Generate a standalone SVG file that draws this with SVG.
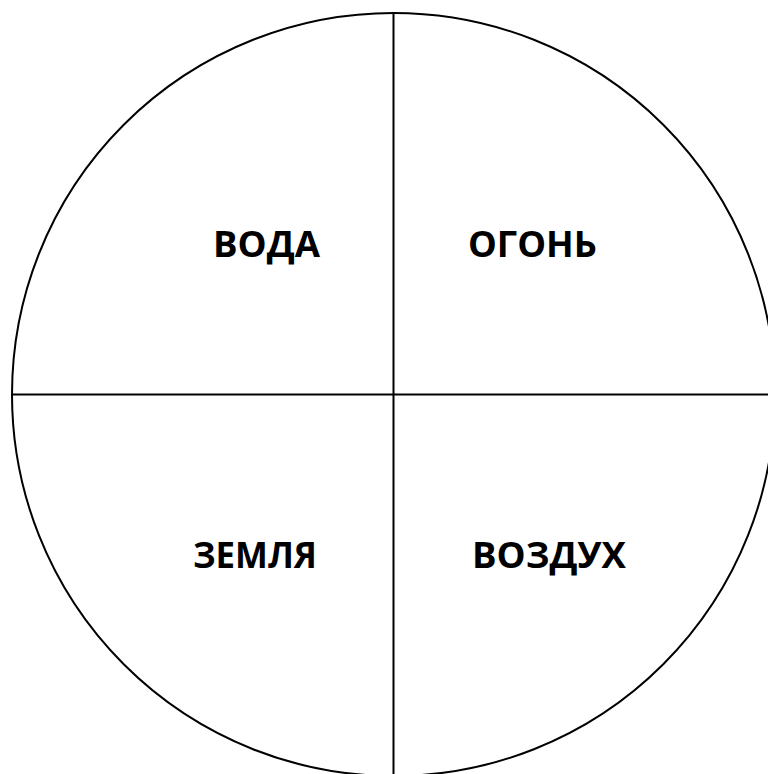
<svg xmlns="http://www.w3.org/2000/svg" width="768" height="774" viewBox="0 0 768 774">
<style>
.ln{stroke:#000;stroke-width:2;fill:none}
.t{font-family:"Open Sans","DejaVu Sans",sans-serif;font-weight:700;font-size:35px;fill:#000}
</style>
<rect width="768" height="774" fill="#fff"/>
<g id="circle"><circle class="ln" cx="393.5" cy="394.5" r="381.5"/></g>
<g id="connectors">
<line class="ln" x1="393.5" y1="12" x2="393.5" y2="774"/>
<line class="ln" x1="12" y1="394.5" x2="768" y2="394.5"/>
</g>
<g id="voda"><text class="t" x="213" y="257" textLength="107" lengthAdjust="spacingAndGlyphs">ВОДА</text></g>
<g id="ogon"><text class="t" x="468" y="257" textLength="129" lengthAdjust="spacingAndGlyphs">ОГОНЬ</text></g>
<g id="zemlya"><text class="t" x="193" y="568" textLength="124" lengthAdjust="spacingAndGlyphs">ЗЕМЛЯ</text></g>
<g id="vozdukh"><text class="t" x="472" y="568" textLength="154" lengthAdjust="spacingAndGlyphs">ВОЗДУХ</text></g>
</svg>
